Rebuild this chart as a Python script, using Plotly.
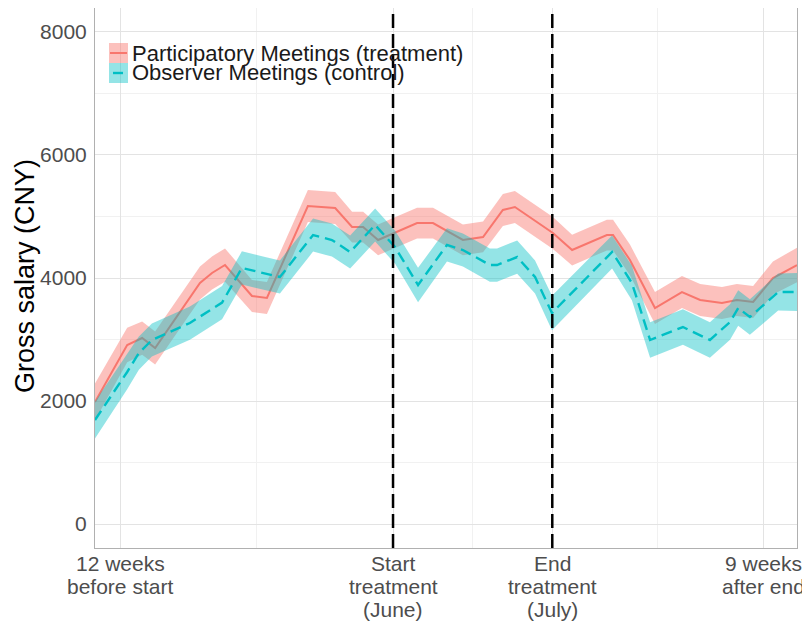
import plotly.graph_objects as go

# ---- data (x in days relative to treatment start) ----
x_treat = [-91.7, -81.8, -77.2, -73.2, -59.4, -55.7, -51.7, -43.4, -38.8, -26.2, -17.8,
           -12.6, -9.2, -4.6, 7.4, 12.3, 21.5, 27.7, 33.8, 37.5, 49.2, 55.1, 65.8, 67.7,
           72.9, 80.6, 88.9, 94.5, 101.2, 105.8, 110.8, 116.9, 124.3]
y_treat = [1984, 2911, 3024, 2862, 3919, 4081, 4211, 3707, 3675, 5171, 5138,
           4829, 4829, 4618, 4894, 4894, 4618, 4667, 5106, 5154, 4732, 4455, 4699, 4699,
           4293, 3512, 3772, 3642, 3593, 3642, 3610, 4000, 4211]
se_treat = [300, 280, 270, 270, 270, 270, 270, 260, 260, 260, 260,
            250, 250, 250, 250, 250, 250, 250, 260, 260, 260, 250, 250, 250,
            250, 260, 260, 260, 260, 260, 260, 270, 280]

x_ctrl = [-91.7, -81.8, -78.2, -74.2, -62.5, -52.6, -46.5, -40.0, -34.8, -24.6, -18.8,
          -13.2, -5.5, 0.6, 7.7, 16.6, 21.5, 29.8, 32.0, 38.2, 43.7, 48.9, 67.4, 73.5,
          79.1, 89.2, 97.5, 103.7, 106.2, 109.8, 118.5, 124.3]
y_ctrl = [1691, 2472, 2780, 2992, 3268, 3600, 4163, 4081, 4016, 4699, 4618,
          4423, 4862, 4504, 3886, 4537, 4455, 4211, 4211, 4341, 4016, 3431, 4423, 3919,
          2992, 3203, 2992, 3285, 3512, 3366, 3772, 3772]
se_ctrl = [300, 280, 270, 270, 270, 270, 270, 270, 270, 270, 270,
           270, 270, 270, 280, 270, 270, 270, 270, 270, 270, 280, 270, 280,
           290, 290, 290, 290, 290, 290, 300, 310]

series_names = ["Participatory Meetings (treatment)", "Observer Meetings (control)"]
tick_vals = [-84, 0, 49, 114]
tick_lines = [["12 weeks", "before start"],
              ["Start", "treatment", "(June)"],
              ["End", "treatment", "(July)"],
              ["9 weeks", "after end"]]
minor_vals = [-42, 24.5, 81.5]
treatment_lines = [0, 49]
y_ticks = [0, 2000, 4000, 6000, 8000]
y_minor = [1000, 3000, 5000, 7000]
x_range = [-91.7, 124.3]
y_range = [-390, 8390]

RED = "#F8766D"
TEAL = "#00BFC4"
RED_FILL = "rgba(248,118,109,0.45)"
TEAL_FILL = "rgba(0,191,196,0.42)"

fig = go.Figure()


def add_series(x, y, se, line_color, fill_color, dash, name):
    upper = [a + b for a, b in zip(y, se)]
    lower = [a - b for a, b in zip(y, se)]
    fig.add_trace(go.Scatter(x=x + x[::-1], y=upper + lower[::-1], fill="toself",
                             fillcolor=fill_color, line=dict(width=0), mode="lines",
                             hoverinfo="skip", showlegend=False))
    fig.add_trace(go.Scatter(x=x, y=y, mode="lines", name=name,
                             line=dict(color=line_color, width=2.4 if dash else 2, dash=dash),
                             showlegend=False))


add_series(x_treat, y_treat, se_treat, RED, RED_FILL, None, series_names[0])
add_series(x_ctrl, y_ctrl, se_ctrl, TEAL, TEAL_FILL, "11px,6px", series_names[1])

shapes = []
for v in treatment_lines:
    shapes.append(dict(type="line", xref="x", yref="paper", x0=v, x1=v, y0=0, y1=1,
                       line=dict(color="black", width=2.5, dash="14px,6px")))

# page-pixel helpers (page has an 8px body margin)
P_LEFT, P_RIGHT, P_TOP, P_BOTTOM = 95.0, 797.0, 8.0, 548.0
PW, PH = P_RIGHT - P_LEFT, P_BOTTOM - P_TOP


def px_x(p):
    return (p - P_LEFT) / PW


def px_y(p):
    return 1 - (p - P_TOP) / PH


shapes.append(dict(type="rect", xref="paper", yref="paper", x0=px_x(109), x1=px_x(128),
                   y0=px_y(63), y1=px_y(43), fillcolor=RED_FILL, line=dict(width=0)))
shapes.append(dict(type="rect", xref="paper", yref="paper", x0=px_x(109), x1=px_x(128),
                   y0=px_y(83), y1=px_y(63), fillcolor=TEAL_FILL, line=dict(width=0)))
shapes.append(dict(type="line", xref="paper", yref="paper", x0=px_x(110), x1=px_x(127),
                   y0=px_y(53), y1=px_y(53), line=dict(color=RED, width=2)))
shapes.append(dict(type="line", xref="paper", yref="paper", x0=px_x(113), x1=px_x(123),
                   y0=px_y(73), y1=px_y(73), line=dict(color=TEAL, width=2.4)))

annotations = []
for name, yc in zip(series_names, [53, 73]):
    annotations.append(dict(text=name, xref="paper", yref="paper", x=px_x(130), y=px_y(yc),
                            xanchor="left", yanchor="middle", showarrow=False,
                            font=dict(size=22, color="#1a1a1a")))

for v, lines in zip(tick_vals, tick_lines):
    for i, t in enumerate(lines):
        annotations.append(dict(text=t, xref="x", yref="paper", x=v, y=0,
                                xanchor="center", yanchor="top", showarrow=False,
                                yshift=-2 - 23 * i, font=dict(size=21, color="#4d4d4d")))

annotations.append(dict(text="Gross salary (CNY)", xref="paper", yref="paper",
                        x=px_x(25), y=px_y(276), textangle=-90, showarrow=False,
                        xanchor="center", yanchor="middle",
                        font=dict(size=27, color="black")))

fig.update_layout(
    width=802, height=619,
    margin=dict(l=87, r=13, t=0, b=79),
    paper_bgcolor="white", plot_bgcolor="white",
    font=dict(family="Liberation Sans, Arial, sans-serif"),
    shapes=shapes, annotations=annotations,
    showlegend=False,
)
fig.update_xaxes(range=x_range, tickmode="array", tickvals=tick_vals, showticklabels=False,
                 showgrid=True, gridcolor="#e3e3e3", gridwidth=1,
                 minor=dict(tickmode="array", tickvals=minor_vals, showgrid=True,
                            gridcolor="#f1f1f1", gridwidth=1),
                 showline=True, mirror=True, linecolor="#b0b0b0", linewidth=1,
                 zeroline=False, ticks="")
fig.update_yaxes(range=y_range, tickmode="array", tickvals=y_ticks,
                 ticktext=[str(v) for v in y_ticks],
                 tickfont=dict(size=21, color="#4d4d4d"), ticklabelstandoff=3,
                 showgrid=True, gridcolor="#e3e3e3", gridwidth=1,
                 minor=dict(tickmode="array", tickvals=y_minor, showgrid=True,
                            gridcolor="#f1f1f1", gridwidth=1),
                 showline=True, mirror=True, linecolor="#b0b0b0", linewidth=1,
                 zeroline=False, ticks="")

fig.write_html("out.html")
